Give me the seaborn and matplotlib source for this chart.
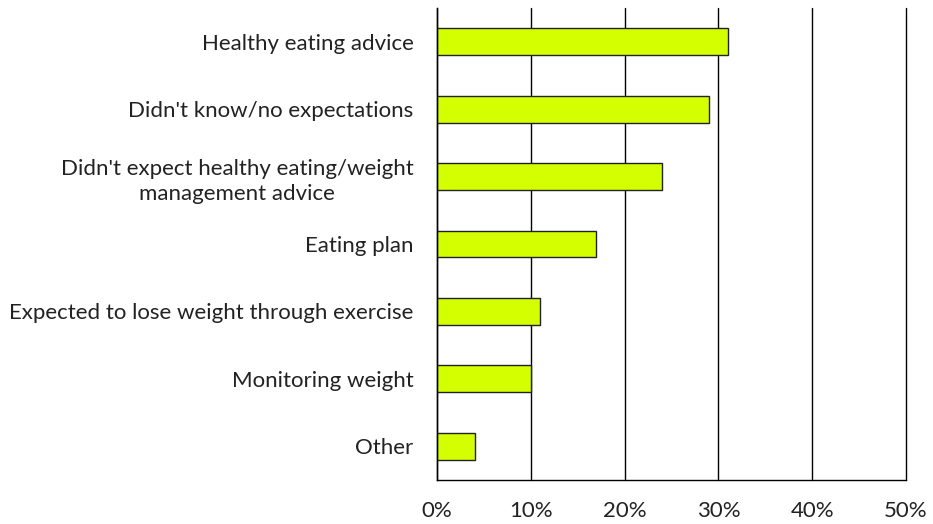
import matplotlib
matplotlib.use("Agg")
import matplotlib.pyplot as plt
import seaborn as sns
import numpy as np
import pandas as pd
from matplotlib.ticker import FixedLocator, PercentFormatter

categories = [
    "Healthy eating advice",
    "Didn't know/no expectations",
    "Didn't expect healthy eating/weight\nmanagement advice",
    "Eating plan",
    "Expected to lose weight through exercise",
    "Monitoring weight",
    "Other",
]
values = [31, 29, 24, 17, 11, 10, 4]
x_ticks = [0, 10, 20, 30, 40, 50]

df = pd.DataFrame({"category": categories, "value": values})

sns.set_theme(style="white")
plt.rcParams["font.family"] = ["Lato", "DejaVu Sans"]

fig = plt.figure(figsize=(9.33, 5.24), dpi=100)
ax = fig.add_axes([0.4684, 0.084, 0.971 - 0.4684, 0.9847 - 0.084])

sns.barplot(data=df, y="category", x="value", orient="h", color="#D4FF00",
            edgecolor="#222222", linewidth=1.0, width=0.4, saturation=1, ax=ax)

ax.set_xlim(0, 50)
ax.set_ylim(len(categories) - 0.5, -0.5)
ax.set_xticks(x_ticks)
ax.xaxis.set_major_formatter(PercentFormatter(decimals=0))
ax.set_xlabel("")
ax.set_ylabel("")

# vertical gridlines
ax.grid(axis="x", color="black", linewidth=1.0)
ax.set_axisbelow(True)
for gl in ax.get_xgridlines():
    gl.set_clip_on(False)

for side in ["top", "right"]:
    ax.spines[side].set_visible(False)
for side in ["left", "bottom"]:
    ax.spines[side].set_color("black")
    ax.spines[side].set_linewidth(1.0)

# category labels, tick marks at category boundaries
ax.tick_params(axis="y", which="major", length=0, pad=17, labelsize=16, labelcolor="#222222")
ax.yaxis.set_minor_locator(FixedLocator(np.arange(-0.5, len(categories), 1.0)))
ax.tick_params(axis="y", which="minor", length=6, width=1, color="black", direction="out")
for lbl in ax.get_yticklabels():
    lbl.set_multialignment("center")
    lbl.set_linespacing(1.35)

ax.tick_params(axis="x", which="major", length=6, width=1, color="black",
               direction="out", labelsize=16, labelcolor="#222222", pad=9)

fig.savefig("out.png", dpi=100)
